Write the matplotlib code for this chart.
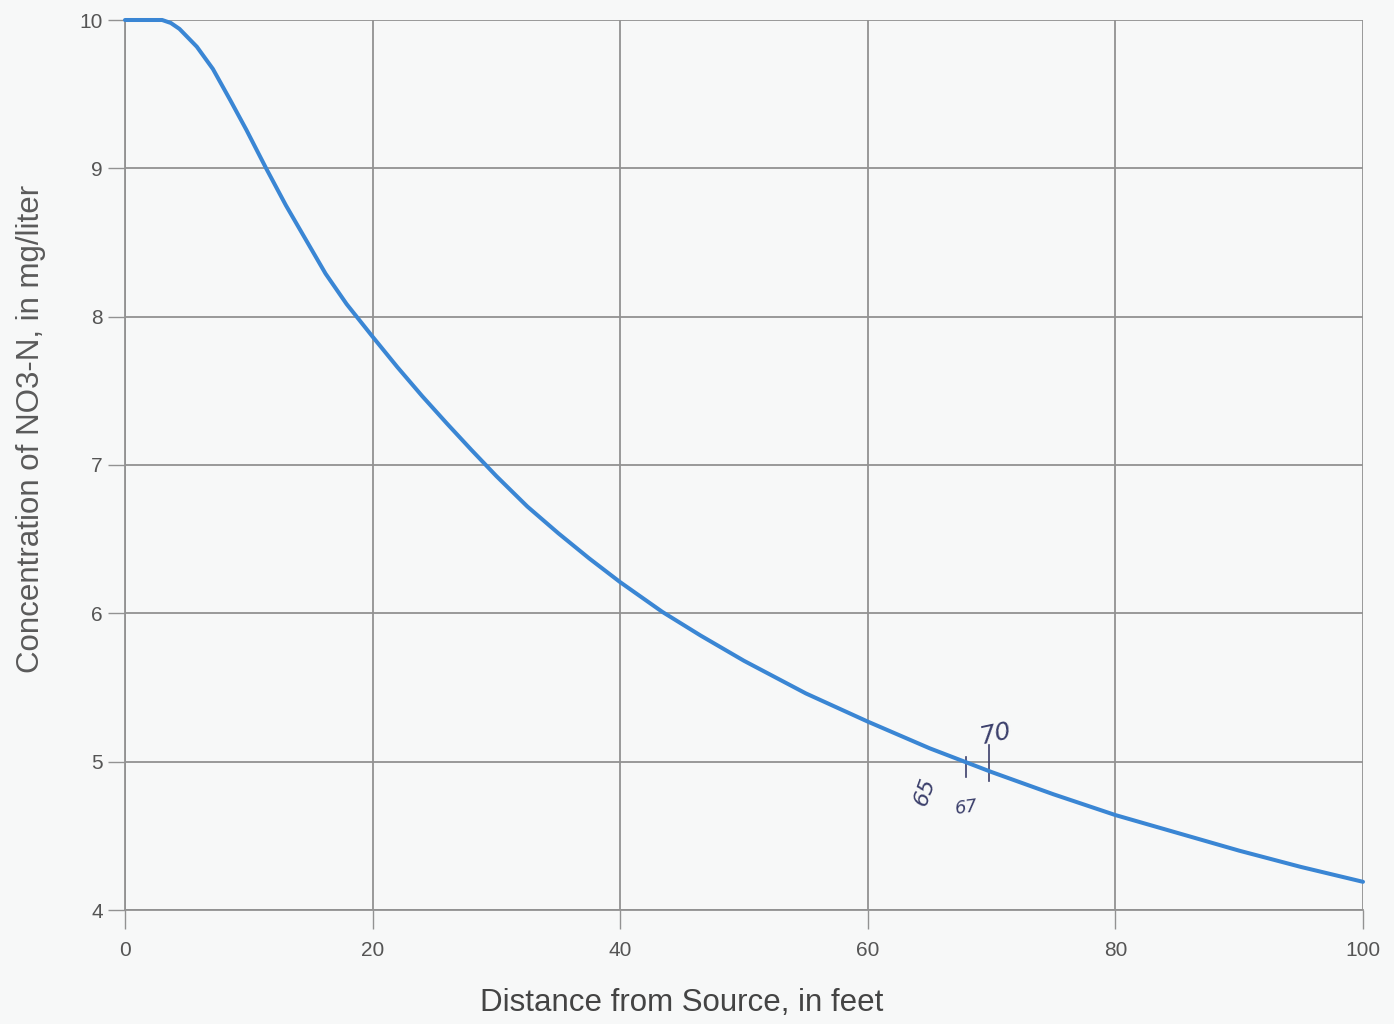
import matplotlib
matplotlib.use("Agg")
import matplotlib.pyplot as plt

# curve (distance in feet, NO3-N in mg/L)
distance_ft = [0, 3, 3.7, 4.4, 5.8, 7.1, 8.5, 9.8, 11.4, 13, 14.6, 16.2,
               17.9, 20, 22, 24, 26, 28, 30, 32.5, 35, 37.5, 40, 43.4, 46.5,
               50, 55, 60, 65, 70, 75, 80, 85, 90, 95, 100]
conc_mg_l = [10.0, 10.0, 9.98, 9.94, 9.82, 9.67, 9.46, 9.26, 9.0, 8.75,
             8.52, 8.29, 8.085, 7.865, 7.66, 7.465, 7.28, 7.1, 6.925, 6.72,
             6.54, 6.37, 6.21, 6.01, 5.85, 5.68, 5.46, 5.27, 5.09, 4.93,
             4.78, 4.64, 4.52, 4.4, 4.29, 4.19]

x_ticks = [0, 20, 40, 60, 80, 100]
y_ticks = [4, 5, 6, 7, 8, 9, 10]

# handwritten notes on the scan: (text, x, y, rotation, size)
notes = [("65", 64.6, 4.8, 70, 16), ("67", 68.0, 4.69, 8, 13),
         ("70", 70.3, 5.19, 12, 18)]
note_ticks = [(67.9, 4.9, 5.03), (69.8, 4.87, 5.11)]

plt.rcParams["font.family"] = ["Liberation Sans", "DejaVu Sans"]
bg = "#f7f8f8"
grid_c = "#929292"
ink = "#3b3f6b"

fig = plt.figure(figsize=(13.94, 10.24), dpi=100, facecolor=bg)
ax = fig.add_axes([125 / 1394, 1 - 910 / 1024, 1238 / 1394, 890 / 1024])
ax.set_facecolor(bg)

ax.plot(distance_ft, conc_mg_l, color="#3a86d4", lw=2.9,
        solid_capstyle="round", solid_joinstyle="round", zorder=3,
        clip_on=False)

ax.set_xlim(0, 100)
ax.set_ylim(4, 10)
ax.set_xticks(x_ticks)
ax.set_yticks(y_ticks)
ax.grid(True, color=grid_c, lw=1.3)
for s in ax.spines.values():
    s.set_color(grid_c)
    s.set_linewidth(1.3)
ax.spines["top"].set_visible(False)
ax.spines["right"].set_visible(False)
ax.tick_params(axis="both", colors=grid_c, labelcolor="#555555",
               labelsize=15, width=1.0)
ax.tick_params(axis="x", length=14, pad=8)
ax.tick_params(axis="y", length=12, pad=4)

ax.set_xlabel("Distance from Source, in feet", fontsize=22.5,
              color="#444444")
ax.xaxis.set_label_coords(0.45, -0.088)
ax.set_ylabel("Concentration of NO3-N, in mg/liter", fontsize=22.5,
              color="#5a5a5a")
ax.yaxis.set_label_coords(-0.064, 0.54)

for txt, nx, ny, rot, fs in notes:
    ax.text(nx, ny, txt, fontsize=fs, color=ink, rotation=rot,
            ha="center", va="center", family="DejaVu Sans", style="italic")
for tx, y0, y1 in note_ticks:
    ax.plot([tx, tx], [y0, y1], color=ink, lw=1.2)

fig.savefig("out.png", dpi=100, facecolor=bg)
